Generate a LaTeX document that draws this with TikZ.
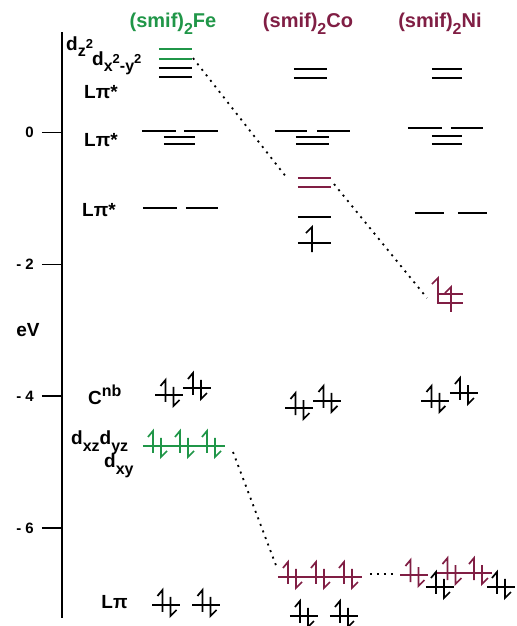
\documentclass[tikz,border=0pt]{standalone}
\usepackage{fontspec}
\setmainfont{Liberation Sans}
\usetikzlibrary{positioning, calc}
\definecolor{fegreen}{RGB}{32,150,72}
\definecolor{comaroon}{RGB}{128,30,68}

\newcommand{\lo}[1]{\raisebox{-0.32em}{\fontsize{16}{16}\selectfont #1}}
\newcommand{\hi}[1]{\raisebox{0.45em}{\fontsize{13}{13}\selectfont #1}}
\newcommand{\up}[1]{\raisebox{0.42em}{\fontsize{16}{16}\selectfont #1}}

\tikzset{
  pair/.pic={
    \draw[line width=1.6pt] (-14pt,0pt) -- (14pt,0pt);
    \draw[line width=1.7pt] (-4pt,-7pt) -- (-4pt,15pt) -- (-9pt,9pt);
    \draw[line width=1.7pt] (4pt,8pt) -- (4pt,-11pt) -- (10pt,-5pt);
  },
  spinup/.pic={
    \draw[line width=1.7pt] (0pt,-9pt) -- (0pt,16pt) -- (-6pt,10pt);
  }
}

\begin{document}
\begin{tikzpicture}[x=1pt, y=65.9pt, every node/.style={inner sep=0pt, font=\bfseries\fontsize{19}{22}\selectfont}]
    \tikzstyle{level} = [line width=1.6pt]
    \tikzstyle{corr} = [line width=1.8pt, dash pattern=on 2pt off 5pt]
    \tikzstyle{title} = [font=\bfseries\fontsize{20}{24}\selectfont]
    \tikzstyle{ticklab} = [font=\bfseries\fontsize{15}{18}\selectfont, anchor=east]

    \useasboundingbox (0,-7.489) rectangle (517,2.011);

    % energy axis
    \draw[line width=1.4pt] (62,1.525) -- (62,-7.367);
    \foreach \e/\t [count=\i] in {0/0, -2/- 2, -4/- 4, -6/- 6} {
        \draw[line width=1.4pt] (42,\e) -- (62,\e);
        \node[ticklab] (tick\i) at (34,\e) {\t};
    }
    \node[font=\bfseries\fontsize{19}{22}\selectfont] (ev) at (28,-2.997) {eV};

    % compound titles
    \node[title, text=fegreen] (fe) at (173,1.65) {(smif)\lo{2}Fe};
    \node[title, text=comaroon] (co) at (308,1.65) {(smif)\lo{2}Co};
    \node[title, text=comaroon] (ni) at (440,1.65) {(smif)\lo{2}Ni};

    % level labels
    \node[anchor=base west] (dz) at (66,1.252) {d\lo{z\hi{2}}};
    \node[anchor=base west] (dxy2) at (92,1.024) {d\lo{x\hi{2}-y\hi{2}}};
    \node (lpi1) at (101,0.615) {Lπ*};
    \node (lpi2) at (101,-0.114) {Lπ*};
    \node (lpi3) at (99,-1.176) {Lπ*};
    \node[anchor=base west] (cnb) at (88,-4.120) {C\up{nb}};
    \node[anchor=base west] (dxz) at (71,-4.742) {d\lo{xz}d\lo{yz}};
    \node[anchor=base west] (dxy) at (104,-5.091) {d\lo{xy}};
    \node (lpi4) at (114.5,-7.124) {Lπ};

    % (smif)2Fe
    \draw[level, fegreen] (159,1.267) -- (192,1.267);
    \draw[level, fegreen] (159,1.115) -- (192,1.115);
    \draw[level] (159,0.979) -- (192,0.979);
    \draw[level] (159,0.842) -- (192,0.842);
    \draw[level] (142,0.023) -- (176,0.023);
    \draw[level] (184,0.023) -- (218,0.023);
    \draw[level] (164,-0.068) -- (195,-0.068);
    \draw[level] (164,-0.175) -- (195,-0.175);
    \draw[level] (143,-1.146) -- (177,-1.146);
    \draw[level] (186,-1.146) -- (218,-1.146);
    \pic at (169.5,-3.983) {pair};
    \pic at (197,-3.877) {pair};
    \foreach \x in {157,184,211}
        \pic[fegreen] at (\x,-4.757) {pair};
    \pic at (166.5,-7.170) {pair};
    \pic at (206.5,-7.170) {pair};

    % (smif)2Co
    \draw[level] (294,0.964) -- (327,0.964);
    \draw[level] (294,0.827) -- (327,0.827);
    \draw[level] (275,0.023) -- (307,0.023);
    \draw[level] (317,0.023) -- (350,0.023);
    \draw[level] (296,-0.068) -- (329,-0.068);
    \draw[level] (296,-0.175) -- (329,-0.175);
    \draw[level, comaroon] (298,-0.690) -- (331,-0.690);
    \draw[level, comaroon] (298,-0.827) -- (331,-0.827);
    \draw[level] (298,-1.282) -- (331,-1.282);
    \draw[level] (298,-1.677) -- (331,-1.677);
    \pic at (312,-1.677) {spinup};
    \pic at (299.5,-4.181) {pair};
    \pic at (327.5,-4.074) {pair};
    \foreach \x in {292,320,348}
        \pic[comaroon] at (\x,-6.745) {pair};
    \pic at (304,-7.337) {pair};
    \pic at (344,-7.337) {pair};

    % (smif)2Ni
    \draw[level] (432,0.964) -- (462,0.964);
    \draw[level] (432,0.827) -- (462,0.827);
    \draw[level] (408,0.068) -- (442,0.068);
    \draw[level] (451,0.068) -- (483,0.068);
    \draw[level] (432,-0.053) -- (462,-0.053);
    \draw[level] (432,-0.175) -- (462,-0.175);
    \draw[level] (415,-1.222) -- (444,-1.222);
    \draw[level] (458,-1.222) -- (487,-1.222);
    \draw[level, comaroon] (437,-2.451) -- (463,-2.451);
    \draw[level, comaroon] (437,-2.587) -- (463,-2.587);
    \pic[comaroon] at (438,-2.451) {spinup};
    \pic[comaroon] at (451,-2.587) {spinup};
    \pic at (435.5,-4.074) {pair};
    \pic at (464,-3.953) {pair};
    \pic at (440,-6.897) {pair};
    \pic at (501,-6.897) {pair};
    \pic[comaroon] at (414.5,-6.715) {pair};
    \pic[comaroon] at (451.5,-6.685) {pair};
    \pic[comaroon] at (478,-6.685) {pair};

    % correlation lines
    \coordinate (fe-eg) at (193,1.130);
    \coordinate (co-eg-in) at (287,-0.690);
    \coordinate (co-eg-out) at (334,-0.781);
    \coordinate (ni-eg) at (427,-2.511);
    \coordinate (fe-t2g) at (233,-4.848);
    \coordinate (co-t2g-in) at (277,-6.608);
    \coordinate (co-t2g-out) at (370,-6.700);
    \coordinate (ni-t2g) at (395,-6.700);
    \draw[corr] (fe-eg) -- (co-eg-in);
    \draw[corr] (co-eg-out) -- (ni-eg);
    \draw[corr] (fe-t2g) -- (co-t2g-in);
    \draw[corr] (co-t2g-out) -- (ni-t2g);
\end{tikzpicture}
\end{document}
